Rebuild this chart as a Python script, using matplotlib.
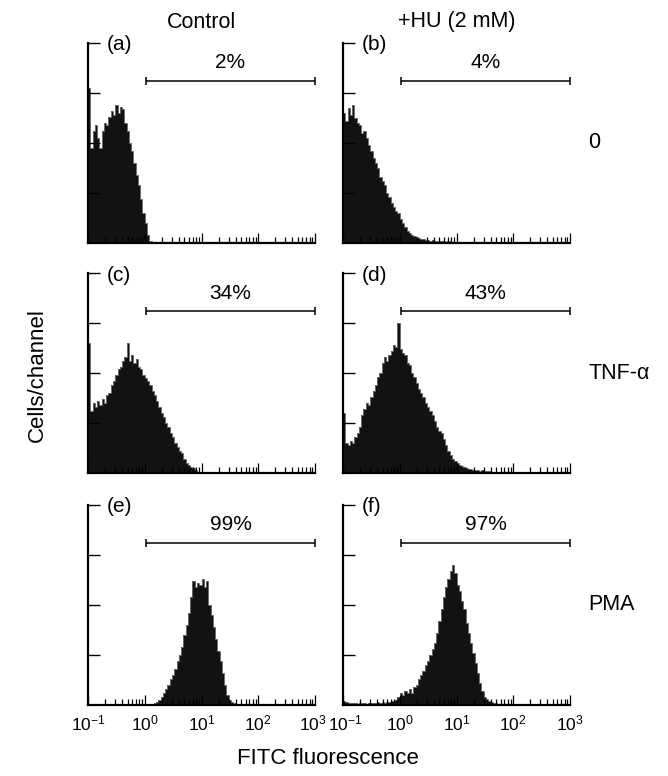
import matplotlib
matplotlib.use("Agg")
import numpy as np
import matplotlib.pyplot as plt
import matplotlib.transforms as mtransforms
from matplotlib.ticker import LogLocator, NullFormatter

plt.rcParams['font.family'] = ['Liberation Sans', 'DejaVu Sans']
plt.rcParams['mathtext.fontset'] = 'custom'
plt.rcParams['mathtext.rm'] = 'Liberation Sans'
plt.rcParams['mathtext.default'] = 'regular'

# ---------------- data ----------------
column_titles = ["Control", "+HU (2 mM)"]
row_labels = ["0", "TNF-\u03b1", "PMA"]
panel_letters = ["(a)", "(b)", "(c)", "(d)", "(e)", "(f)"]
percentages = ["2%", "4%", "34%", "43%", "99%", "97%"]
gate_low = 1.05
gate_high = 1000.0
bins_per_decade = 25
x_min, x_max = 0.1, 1000.0

# cells/channel, log channels (25 per decade starting at 10^-1); start = first channel index
start_a = 0
hist_a = [155, 95, 112, 118, 105, 95, 112, 120, 118, 126, 132, 128, 138, 130,
          136, 134, 120, 112, 100, 92, 80, 68, 58, 44, 30, 20, 8, 2]
start_b = 0
hist_b = [130, 122, 135, 128, 138, 125, 120, 118, 110, 112, 105, 98, 92, 85,
          80, 75, 66, 62, 58, 50, 46, 40, 36, 32, 30, 24, 20, 16, 12, 10,
          8, 7, 6, 5, 4, 4, 3, 3, 2, 3, 2, 2, 2, 2, 2, 1, 2, 1, 1, 1, 1]
start_c = 0
hist_c = [130, 62, 70, 66, 72, 68, 74, 70, 78, 80, 88, 92, 98, 104, 106, 112,
          116, 130, 112, 118, 110, 114, 106, 104, 98, 95, 92, 88, 82, 78, 72,
          66, 60, 56, 50, 46, 40, 36, 30, 26, 22, 20, 14, 10, 8, 6, 5, 3]
start_d = 0
hist_d = [60, 30, 28, 32, 30, 36, 40, 46, 58, 64, 70, 68, 76, 82, 88, 96, 100,
          110, 116, 112, 118, 122, 128, 126, 150, 124, 120, 118, 110, 108, 100,
          96, 90, 84, 80, 76, 70, 66, 62, 58, 52, 46, 42, 40, 34, 28, 22, 18,
          14, 12, 10, 8, 7, 6, 5, 4, 4, 3, 3, 3, 2, 3, 2, 2, 2, 1, 1]
start_e = 28
hist_e = [1, 2, 3, 5, 8, 12, 16, 20, 26, 30, 36, 44, 50, 58, 70, 80, 92, 108,
          124, 118, 122, 120, 126, 118, 124, 100, 90, 78, 66, 54, 44, 32, 20,
          10, 5, 3, 2, 1]
start_f = 0
hist_f = [4, 3, 2, 2, 2, 2, 1, 2, 2, 2, 1, 2, 2, 2, 2, 3, 2, 3, 2, 3, 3, 4, 4,
          5, 8, 12, 10, 14, 12, 16, 12, 18, 20, 26, 30, 34, 40, 44, 50, 56, 62,
          72, 84, 96, 108, 118, 126, 134, 140, 132, 120, 114, 104, 96, 82, 72,
          62, 52, 42, 32, 22, 14, 8, 6, 4, 3, 2, 2, 1]

histograms = [(start_a, hist_a), (start_b, hist_b), (start_c, hist_c),
              (start_d, hist_d), (start_e, hist_e), (start_f, hist_f)]

# ---------------- figure ----------------
W, H = 668, 776
fig = plt.figure(figsize=(W / 100, H / 100), dpi=100)

col_left = [88, 343]
ax_w = 227
row_bottom = [243, 473, 705]
ax_h = 200

axes = []
for r in range(3):
    for c in range(2):
        ax = fig.add_axes([col_left[c] / W, 1 - row_bottom[r] / H, ax_w / W, ax_h / H])
        axes.append(ax)

for i, ax in enumerate(axes):
    r, c = divmod(i, 2)
    start, vals = histograms[i]
    vals = np.asarray(vals, dtype=float)
    exps = np.log10(x_min) + (start + np.arange(len(vals) + 1)) / bins_per_decade
    edges = 10 ** exps
    ax.stairs(vals, edges, fill=True, color='#121212', lw=0)
    ax.stairs(vals, edges, fill=False, color='#6a6a6a', lw=0.7)

    ax.set_xscale('log')
    ax.set_xlim(x_min, x_max)
    ax.set_ylim(0, 200)
    ax.set_yticks([50, 100, 150, 200])
    ax.xaxis.set_major_locator(LogLocator(base=10, numticks=10))
    ax.xaxis.set_minor_locator(LogLocator(base=10, subs=np.arange(2, 10), numticks=20))
    ax.xaxis.set_minor_formatter(NullFormatter())
    for s in ['top', 'right']:
        ax.spines[s].set_visible(False)
    for s in ['left', 'bottom']:
        ax.spines[s].set_linewidth(1.6)
    ax.tick_params(axis='y', which='major', direction='in', length=8.5, width=1.0,
                   labelleft=False)
    ax.tick_params(axis='x', which='major', direction='in', length=7.5, width=0.9,
                   labelsize=12.5, pad=6, labelbottom=(r == 2))
    ax.tick_params(axis='x', which='minor', direction='in', length=4.5, width=0.9)
    ax.patch.set_alpha(0)

    # gate bracket
    ax.plot([gate_low, gate_high], [162, 162], color='black', lw=1.1,
            marker='|', markersize=6, markeredgewidth=1.1, solid_capstyle='butt')
    ax.text(np.sqrt(gate_low * gate_high), 180, percentages[i], ha='center',
            va='center', fontsize=15)
    ax.text(0.084, 0.99, panel_letters[i], transform=ax.transAxes,
            ha='left', va='center', fontsize=15)

    if c == 1:
        ax.text(1.08, 0.5, row_labels[r], transform=ax.transAxes,
                ha='left', va='center', fontsize=15.5)
    if r == 0:
        ax.text(0.5, 1.105, column_titles[c], transform=ax.transAxes,
                ha='center', va='center', fontsize=15.5)

fig.text(37 / W, 1 - 375 / H, "Cells/channel", rotation=90, ha='center',
         va='center', fontsize=16)
fig.text(328 / W, 1 - 758 / H, "FITC fluorescence", ha='center', va='center',
         fontsize=16)

# nudge the two touching end labels (10^3 | 10^-1) apart by a couple of pixels
fig.canvas.draw()
for ax, direction in ((axes[4], -1), (axes[5], 1)):
    for tick in ax.xaxis.get_major_ticks():
        lbl = tick.label1
        x = tick.get_loc()
        if (direction < 0 and np.isclose(x, x_max)) or (direction > 0 and np.isclose(x, x_min)):
            lbl.set_transform(lbl.get_transform() +
                              mtransforms.ScaledTranslation(direction * 2.5 / 100, 0,
                                                            fig.dpi_scale_trans))

fig.savefig("out.png", dpi=100)
